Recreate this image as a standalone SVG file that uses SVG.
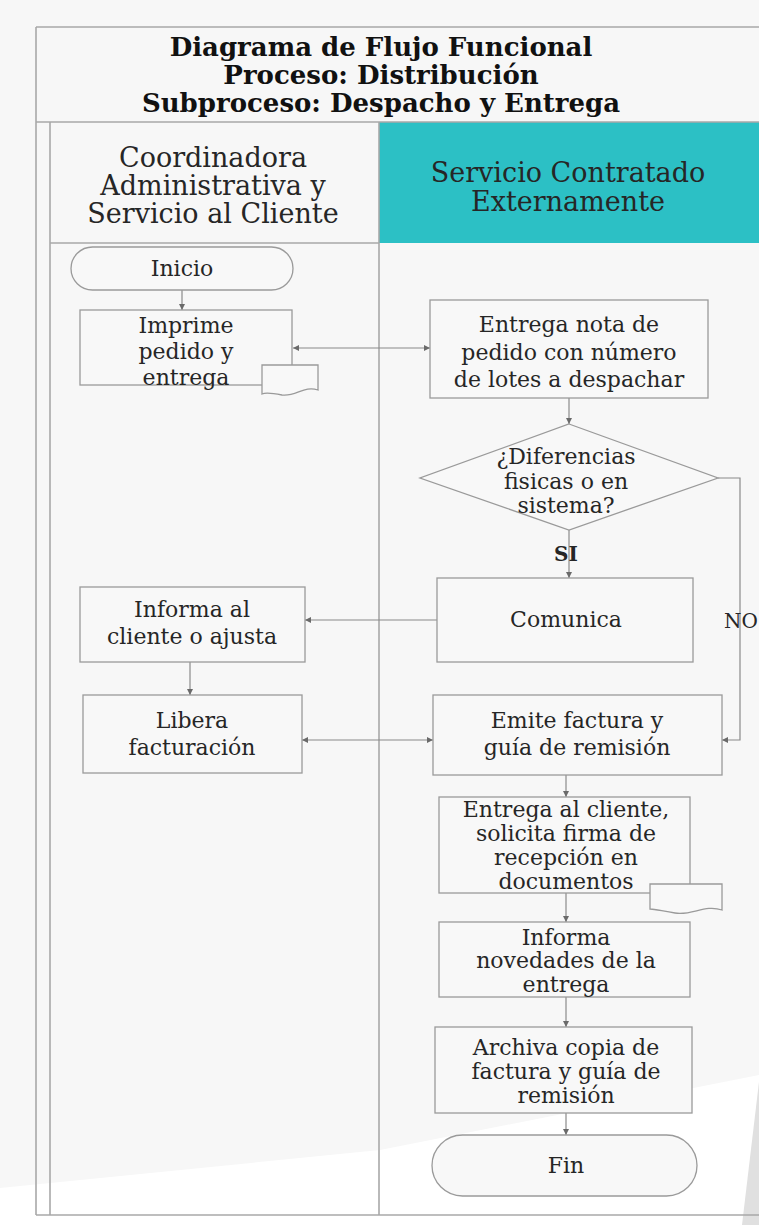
<svg xmlns="http://www.w3.org/2000/svg" width="759" height="1225" viewBox="0 0 759 1225">
<defs>
<style>
.frame{fill:none;stroke:#a8a8a8;stroke-width:1.6}
.box{fill:#f8f8f8;stroke:#9a9a9a;stroke-width:1.3}
.con{fill:none;stroke:#8a8a8a;stroke-width:1.2}
.t{font-family:"DejaVu Serif","Liberation Serif",serif;fill:#262626;text-anchor:middle}
.title{font-size:26px;font-weight:bold;fill:#111}
.hdr{font-size:27px}
.nt{font-size:22px}
.lbl{font-size:20px;font-weight:bold}
</style>
<marker id="ah" viewBox="0 0 6 6" refX="6" refY="3" markerWidth="5" markerHeight="5" orient="auto-start-reverse">
<path d="M0,0 L6,3 L0,6 z" fill="#6a6a6a"/>
</marker>
</defs>
<rect width="759" height="1225" fill="#f7f7f7"/>
<polygon points="0,1188 380,1150 759,1075 759,1225 0,1225" fill="#ffffff"/>
<polygon points="742,1225 759,1082 759,1225" fill="#e0e0e0"/>
<g id="frame">
<rect x="379" y="122" width="380" height="121" fill="#2cc0c5"/>
<line class="frame" x1="36" y1="27" x2="759" y2="27"/>
<line class="frame" x1="36" y1="27" x2="36" y2="1215"/>
<line class="frame" x1="36" y1="122" x2="759" y2="122"/>
<line class="frame" x1="50" y1="122" x2="50" y2="1215"/>
<line class="frame" x1="50" y1="243" x2="379" y2="243"/>
<line class="frame" x1="379" y1="122" x2="379" y2="1215"/>
<line class="frame" x1="36" y1="1215" x2="759" y2="1215"/>
</g>
<g id="title">
<text class="t title" x="381" y="56">Diagrama de Flujo Funcional</text>
<text class="t title" x="381" y="84">Proceso: Distribución</text>
<text class="t title" x="381" y="112">Subproceso: Despacho y Entrega</text>
</g>
<g id="lane-left-header">
<text class="t hdr" x="213" y="167">Coordinadora</text>
<text class="t hdr" x="213" y="195">Administrativa y</text>
<text class="t hdr" x="213" y="223">Servicio al Cliente</text>
</g>
<g id="lane-right-header">
<text class="t hdr" x="568" y="182" fill="#1f3f44">Servicio Contratado</text>
<text class="t hdr" x="568" y="211" fill="#1f3f44">Externamente</text>
</g>
<g id="connectors">
<line class="con" x1="182" y1="290" x2="182" y2="310" marker-end="url(#ah)"/>
<line class="con" x1="293" y1="348" x2="430" y2="348" marker-start="url(#ah)" marker-end="url(#ah)"/>
<line class="con" x1="569" y1="398" x2="569" y2="424" marker-end="url(#ah)"/>
<line class="con" x1="569" y1="530" x2="569" y2="578" marker-end="url(#ah)"/>
<polyline class="con" points="718,478 740,478 740,740 722,740" marker-end="url(#ah)"/>
<line class="con" x1="437" y1="620" x2="305" y2="620" marker-end="url(#ah)"/>
<line class="con" x1="190" y1="662" x2="190" y2="695" marker-end="url(#ah)"/>
<line class="con" x1="302" y1="740" x2="433" y2="740" marker-start="url(#ah)" marker-end="url(#ah)"/>
<line class="con" x1="566" y1="775" x2="566" y2="797" marker-end="url(#ah)"/>
<line class="con" x1="566" y1="893" x2="566" y2="922" marker-end="url(#ah)"/>
<line class="con" x1="566" y1="997" x2="566" y2="1027" marker-end="url(#ah)"/>
<line class="con" x1="566" y1="1113" x2="566" y2="1135" marker-end="url(#ah)"/>
<text class="t lbl" x="566" y="561">SI</text>
<text class="t" x="741" y="628" font-size="20">NO</text>
</g>
<g id="inicio">
<rect class="box" x="71" y="247" width="222" height="43" rx="21.5"/>
<text class="t nt" x="182" y="276">Inicio</text>
</g>
<g id="imprime">
<rect class="box" x="80" y="310" width="212" height="75"/>
<path class="box" d="M262,365 H318 V390 C304,385 296,397 282,395 C272,393 266,392 262,394 Z"/>
<text class="t nt" x="186" y="333">Imprime</text>
<text class="t nt" x="186" y="359">pedido y</text>
<text class="t nt" x="186" y="385">entrega</text>
</g>
<g id="entrega-nota">
<rect class="box" x="430" y="300" width="278" height="98"/>
<text class="t nt" x="569" y="332">Entrega nota de</text>
<text class="t nt" x="569" y="360">pedido con número</text>
<text class="t nt" x="569" y="387">de lotes a despachar</text>
</g>
<g id="decision">
<polygon class="box" points="569,424 718,478 569,530 420,478"/>
<text class="t nt" x="566" y="464">¿Diferencias</text>
<text class="t nt" x="566" y="489">fisicas o en</text>
<text class="t nt" x="566" y="513">sistema?</text>
</g>
<g id="comunica">
<rect class="box" x="437" y="578" width="256" height="84"/>
<text class="t nt" x="566" y="627">Comunica</text>
</g>
<g id="informa-cliente">
<rect class="box" x="80" y="587" width="225" height="75"/>
<text class="t nt" x="192" y="617">Informa al</text>
<text class="t nt" x="192" y="644">cliente o ajusta</text>
</g>
<g id="libera">
<rect class="box" x="83" y="695" width="219" height="78"/>
<text class="t nt" x="192" y="728">Libera</text>
<text class="t nt" x="192" y="755">facturación</text>
</g>
<g id="emite">
<rect class="box" x="433" y="695" width="289" height="80"/>
<text class="t nt" x="577" y="728">Emite factura y</text>
<text class="t nt" x="577" y="755">guía de remisión</text>
</g>
<g id="entrega-cliente">
<rect class="box" x="439" y="797" width="251" height="96"/>
<path class="box" d="M650,884 H722 V910 C705,904 692,916 675,913 C662,911 655,909 650,909 Z"/>
<text class="t nt" x="566" y="817">Entrega al cliente,</text>
<text class="t nt" x="566" y="841">solicita firma de</text>
<text class="t nt" x="566" y="865">recepción en</text>
<text class="t nt" x="566" y="889">documentos</text>
</g>
<g id="informa-novedades">
<rect class="box" x="439" y="922" width="251" height="75"/>
<text class="t nt" x="566" y="945">Informa</text>
<text class="t nt" x="566" y="968">novedades de la</text>
<text class="t nt" x="566" y="992">entrega</text>
</g>
<g id="archiva">
<rect class="box" x="435" y="1027" width="257" height="86"/>
<text class="t nt" x="566" y="1055">Archiva copia de</text>
<text class="t nt" x="566" y="1079">factura y guía de</text>
<text class="t nt" x="566" y="1103">remisión</text>
</g>
<g id="fin">
<rect class="box" x="432" y="1135" width="265" height="61" rx="30.5"/>
<text class="t nt" x="566" y="1173">Fin</text>
</g>
</svg>
